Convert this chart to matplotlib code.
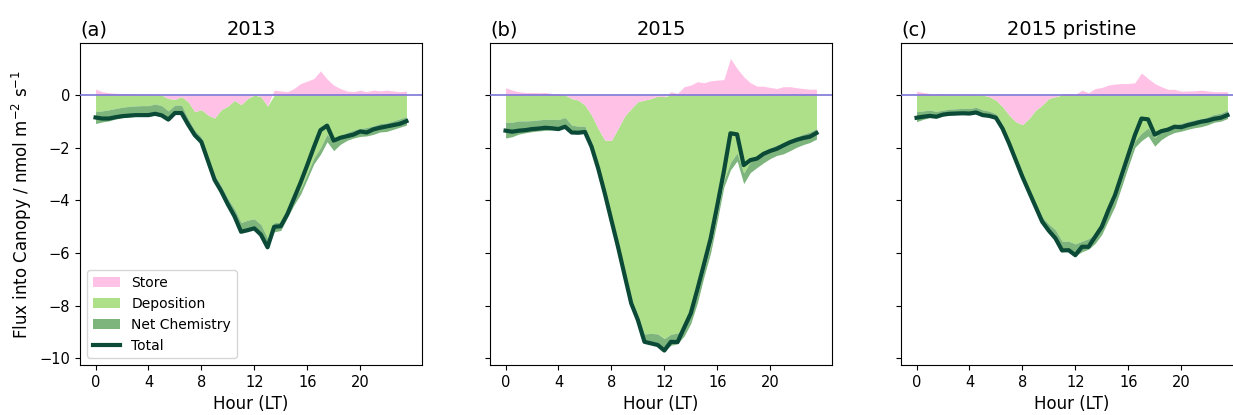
import numpy as np
import matplotlib
matplotlib.use("Agg")
import matplotlib.pyplot as plt

# Half-hourly local time
hours = np.arange(0, 24, 0.5)

# ---- 2013 ----
store_2013 = [0.23, 0.13, 0.09, 0.07, 0.06, 0.05, 0.05, 0.04, 0.04, 0.03, 0.01, -0.13,
              -0.16, -0.06, -0.25, -0.63, -0.55, -0.76, -0.87, -0.55, -0.42, -0.20, -0.36, -0.13,
              0.02, -0.06, -0.42, 0.19, 0.16, 0.13, 0.25, 0.44, 0.53, 0.63, 0.92, 0.61,
              0.38, 0.25, 0.16, 0.13, 0.19, 0.13, 0.19, 0.16, 0.19, 0.16, 0.13, 0.15]
dep_2013 = [-0.63, -0.60, -0.56, -0.51, -0.46, -0.43, -0.41, -0.40, -0.40, -0.34, -0.40, -0.47,
            -0.22, -0.32, -0.65, -0.71, -1.05, -1.56, -2.17, -2.90, -3.51, -4.12, -4.48, -4.62,
            -4.70, -4.86, -5.01, -4.84, -4.84, -4.40, -3.95, -3.56, -2.99, -2.39, -2.00, -1.49,
            -1.81, -1.57, -1.42, -1.33, -1.27, -1.23, -1.17, -1.08, -1.06, -0.98, -0.90, -0.82]
chem_2013 = [-0.45, -0.42, -0.42, -0.40, -0.40, -0.40, -0.40, -0.40, -0.40, -0.40, -0.38, -0.33,
             -0.30, -0.30, -0.22, -0.18, -0.18, -0.18, -0.18, -0.20, -0.22, -0.28, -0.35, -0.38,
             -0.38, -0.38, -0.35, -0.35, -0.30, -0.25, -0.22, -0.20, -0.20, -0.22, -0.25, -0.28,
             -0.30, -0.30, -0.30, -0.30, -0.30, -0.32, -0.32, -0.32, -0.32, -0.32, -0.32, -0.32]

# ---- 2015 ----
store_2015 = [0.28, 0.19, 0.13, 0.10, 0.10, 0.09, 0.10, 0.06, 0.04, 0.00, -0.13, -0.19,
              -0.38, -0.76, -1.27, -1.71, -1.72, -1.27, -0.80, -0.51, -0.25, -0.19, -0.13, -0.04,
              -0.06, 0.13, 0.06, 0.32, 0.38, 0.51, 0.47, 0.54, 0.57, 0.59, 1.39, 1.01,
              0.70, 0.47, 0.34, 0.34, 0.29, 0.25, 0.32, 0.32, 0.28, 0.25, 0.22, 0.23]
dep_2015 = [-1.03, -1.03, -0.98, -0.98, -0.97, -0.94, -0.92, -0.92, -0.93, -0.85, -1.01, -0.99,
            -0.80, -1.02, -1.36, -1.90, -2.91, -4.37, -5.90, -7.24, -8.09, -8.88, -8.92, -9.03,
            -9.19, -9.08, -9.04, -8.80, -8.37, -7.61, -6.63, -5.74, -4.52, -3.24, -2.56, -2.20,
            -2.96, -2.54, -2.35, -2.17, -2.01, -1.89, -1.83, -1.71, -1.58, -1.48, -1.40, -1.27]
chem_2015 = [-0.60, -0.55, -0.50, -0.45, -0.42, -0.42, -0.42, -0.40, -0.40, -0.35, -0.28, -0.25,
             -0.22, -0.18, -0.15, -0.12, -0.12, -0.12, -0.14, -0.16, -0.20, -0.30, -0.38, -0.42,
             -0.45, -0.42, -0.40, -0.35, -0.30, -0.28, -0.26, -0.25, -0.25, -0.25, -0.28, -0.30,
             -0.40, -0.40, -0.40, -0.40, -0.40, -0.40, -0.40, -0.40, -0.40, -0.40, -0.40, -0.40]

# ---- 2015 pristine ----
store_pristine = [0.15, 0.10, 0.06, 0.05, 0.05, 0.04, 0.04, 0.03, 0.03, 0.02, 0.00, -0.06,
                  -0.19, -0.44, -0.76, -1.01, -1.12, -0.89, -0.57, -0.38, -0.13, -0.06, 0.03, 0.06,
                  0.02, 0.19, 0.09, 0.25, 0.29, 0.38, 0.42, 0.44, 0.44, 0.47, 0.84, 0.63,
                  0.44, 0.32, 0.22, 0.22, 0.15, 0.16, 0.16, 0.19, 0.16, 0.13, 0.13, 0.13]
dep_pristine = [-0.63, -0.60, -0.57, -0.62, -0.57, -0.53, -0.52, -0.50, -0.51, -0.46, -0.56, -0.55,
                -0.52, -0.70, -0.96, -1.34, -1.86, -2.66, -3.53, -4.25, -4.77, -5.06, -5.55, -5.55,
                -5.65, -5.55, -5.45, -5.28, -4.99, -4.47, -3.96, -3.23, -2.47, -1.74, -1.45, -1.25,
                -1.62, -1.37, -1.23, -1.12, -1.07, -1.00, -0.94, -0.90, -0.83, -0.73, -0.69, -0.57]
chem_pristine = [-0.38, -0.32, -0.28, -0.25, -0.22, -0.22, -0.22, -0.22, -0.22, -0.22, -0.20, -0.18,
                 -0.15, -0.13, -0.12, -0.12, -0.12, -0.12, -0.14, -0.18, -0.25, -0.32, -0.38, -0.40,
                 -0.45, -0.40, -0.40, -0.35, -0.30, -0.28, -0.26, -0.25, -0.25, -0.25, -0.28, -0.30,
                 -0.32, -0.32, -0.30, -0.30, -0.30, -0.30, -0.30, -0.30, -0.30, -0.30, -0.30, -0.32]

panel_titles = ["2013", "2015", "2015 pristine"]
panel_tags = ["(a)", "(b)", "(c)"]
xticks = [0, 4, 8, 12, 16, 20]
yticks = [0, -2, -4, -6, -8, -10]

datasets = [
    (store_2013, dep_2013, chem_2013),
    (store_2015, dep_2015, chem_2015),
    (store_pristine, dep_pristine, chem_pristine),
]

C_STORE = "#ffc2e6"
C_DEP = "#ade088"
C_CHEM = "#7db57d"
C_TOTAL = "#0b4a37"
C_ZERO = "#7b76d4"

W, H = 1233, 415
fig = plt.figure(figsize=(W / 100, H / 100), dpi=100)

ax_w = 342 / W
ax_h = 321.5 / H
ax_b = (H - 365) / H
lefts = [80 / W, 490 / W, 901 / W]

axes = []
for i, (store, dep, chem) in enumerate(datasets):
    ax = fig.add_axes([lefts[i], ax_b, ax_w, ax_h], sharey=axes[0] if axes else None)
    axes.append(ax)
    s = np.asarray(store)
    d = np.asarray(dep)
    c = np.asarray(chem)
    # negative terms stack downward from the negative part of the storage term
    base = np.minimum(s, 0.0)
    total = s + d + c

    ax.fill_between(hours, base, base + d, color=C_DEP, lw=0, label="Deposition", zorder=1)
    ax.fill_between(hours, base + d, base + d + c, color=C_CHEM, lw=0, label="Net Chemistry", zorder=1)
    ax.fill_between(hours, 0, s, color=C_STORE, lw=0, label="Store", zorder=2)
    ax.axhline(0, color=C_ZERO, lw=1.2, zorder=3)
    ax.plot(hours, total, color=C_TOTAL, lw=3, label="Total", zorder=4)

    ax.set_xticks(xticks)
    ax.set_yticks(yticks)
    ax.set_ylim(-10.25, 1.96)
    ax.set_xlim(-1.175, 24.675)
    ax.tick_params(labelsize=10.5)
    ax.set_xlabel("Hour (LT)", fontsize=12)
    ax.set_title(panel_titles[i], fontsize=14)
    ax.set_title(panel_tags[i], loc="left", fontsize=14)
    if i > 0:
        ax.tick_params(labelleft=False)

axes[0].set_ylabel("Flux into Canopy / nmol m$^{-2}$ s$^{-1}$", fontsize=12)

h, l = axes[0].get_legend_handles_labels()
order = [l.index(n) for n in ["Store", "Deposition", "Net Chemistry", "Total"]]
axes[0].legend([h[k] for k in order], [l[k] for k in order], loc="lower left",
               fontsize=10, frameon=True)

fig.savefig("out.png", dpi=100)
